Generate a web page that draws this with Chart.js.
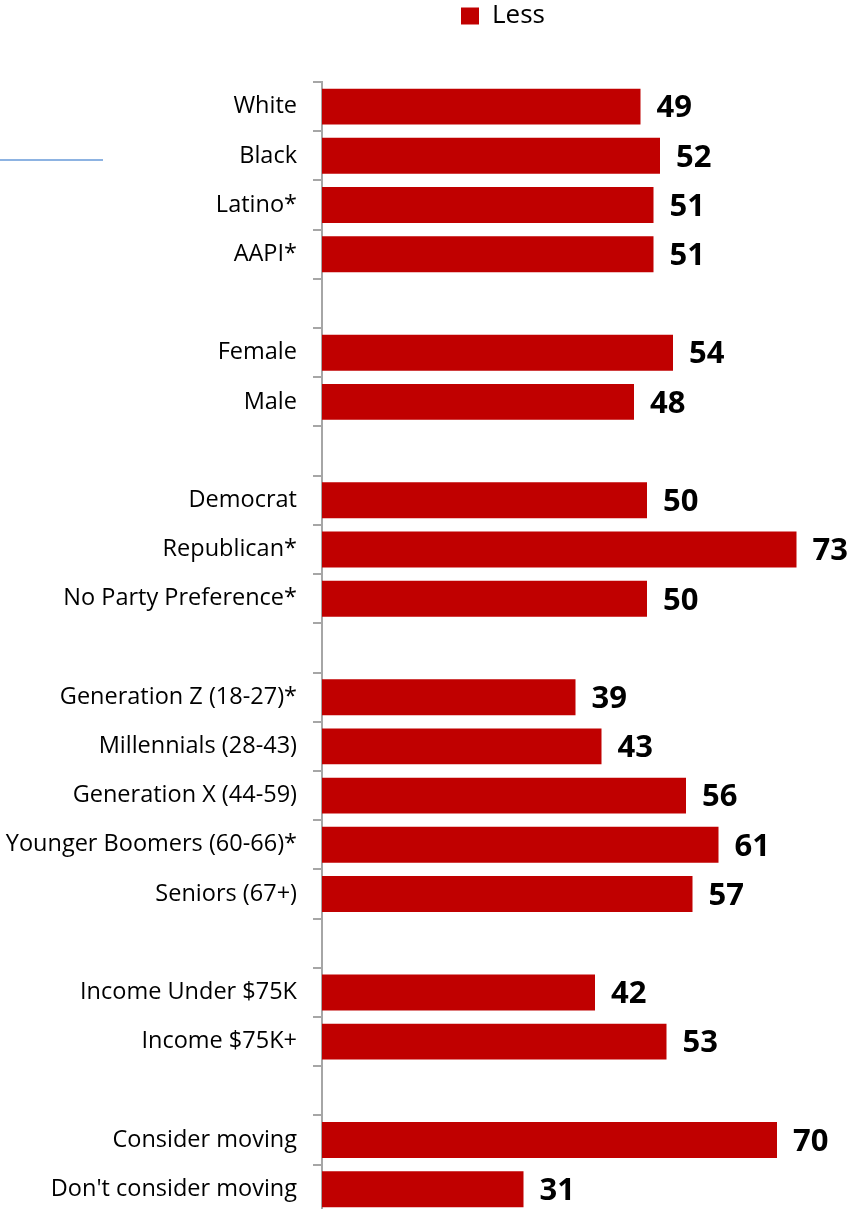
<!DOCTYPE html>
<html>
<head>
<meta charset="utf-8">
<script src="https://cdn.jsdelivr.net/npm/chart.js@4.4.1/dist/chart.umd.min.js"></script>
<style>
  html, body { margin: 0; padding: 0; background: #fff; overflow: hidden; }
  #wrap { position: relative; width: 854px; height: 1244px; }
  #stray { position: absolute; left: 0; top: 159px; width: 103px; height: 2px; background: #8db3e2; }
</style>
</head>
<body>
<div id="wrap">
  <canvas id="myChart" width="854" height="1244"></canvas>
  <div id="stray"></div>
</div>
<script>
// rows of the chart, '' = spacer row between groups
var groupLabels = [
  'White', 'Black', 'Latino*', 'AAPI*', '',
  'Female', 'Male', '',
  'Democrat', 'Republican*', 'No Party Preference*', '',
  'Generation Z (18-27)*', 'Millennials (28-43)', 'Generation X (44-59)', 'Younger Boomers (60-66)*', 'Seniors (67+)', '',
  'Income Under $75K', 'Income $75K+', '',
  'Consider moving', "Don't consider moving"
];
var lessValues = [
  49, 52, 51, 51, null,
  54, 48, null,
  50, 73, 50, null,
  39, 43, 56, 61, 57, null,
  42, 53, null,
  70, 31
];
var seriesName = 'Less';

// legend box: fixed height, item pushed right a bit
const legendTweak = {
  id: 'legendTweak',
  beforeInit(chart) {
    const lg = chart.legend;
    if (!lg) return;
    const fit = lg.fit;
    lg.fit = function() {
      fit.call(this);
      this.height = 82;
    };
  },
  afterLayout(chart) {
    if (!chart.legend) return;
    chart.legend.left += 82;
    chart.legend.right += 82;
  }
};

// numbers at the end of each bar
const valueLabels = {
  id: 'valueLabels',
  afterDatasetsDraw(chart) {
    const ctx = chart.ctx;
    const meta = chart.getDatasetMeta(0);
    ctx.save();
    ctx.font = 'bold 31px "Open Sans"';
    ctx.fillStyle = '#000';
    ctx.textAlign = 'left';
    ctx.textBaseline = 'middle';
    meta.data.forEach((bar, i) => {
      let v = chart.data.datasets[0].data[i];
      if (v == null) return;
      ctx.fillText(v, bar.x + 16, bar.y + 2);
    });
    ctx.restore();
  }
};

const ctx = document.getElementById('myChart').getContext('2d');
var myChart = new Chart(ctx, {
  type: 'bar',
  data: {
    labels: groupLabels,
    datasets: [{
      label: seriesName,
      data: lessValues,
      backgroundColor: '#c00000',
      borderWidth: 0,
      categoryPercentage: 1,
      barPercentage: 0.73
    }]
  },
  options: {
    indexAxis: 'y',
    responsive: false,
    animation: false,
    layout: { padding: { left: 0, right: 12, top: 0, bottom: 0 } },
    plugins: {
      legend: {
        position: 'top',
        labels: {
          font: { family: 'Open Sans', size: 26 },
          color: '#000',
          boxWidth: 18,
          boxHeight: 17,
          padding: 3
        }
      },
      tooltip: { enabled: false }
    },
    scales: {
      x: { display: false, min: 0, max: 80 },
      y: {
        afterFit: function(scale) { scale.width = 322; },
        border: { display: true, color: '#a6a6a6', width: 2 },
        grid: { offset: true, drawOnChartArea: false, tickLength: 9, color: '#a6a6a6', lineWidth: 2 },
        ticks: { color: '#000', padding: 16, font: { family: 'Open Sans', size: 23.5 }, autoSkip: false }
      }
    }
  },
  plugins: [legendTweak, valueLabels]
});
</script>
</body>
</html>
